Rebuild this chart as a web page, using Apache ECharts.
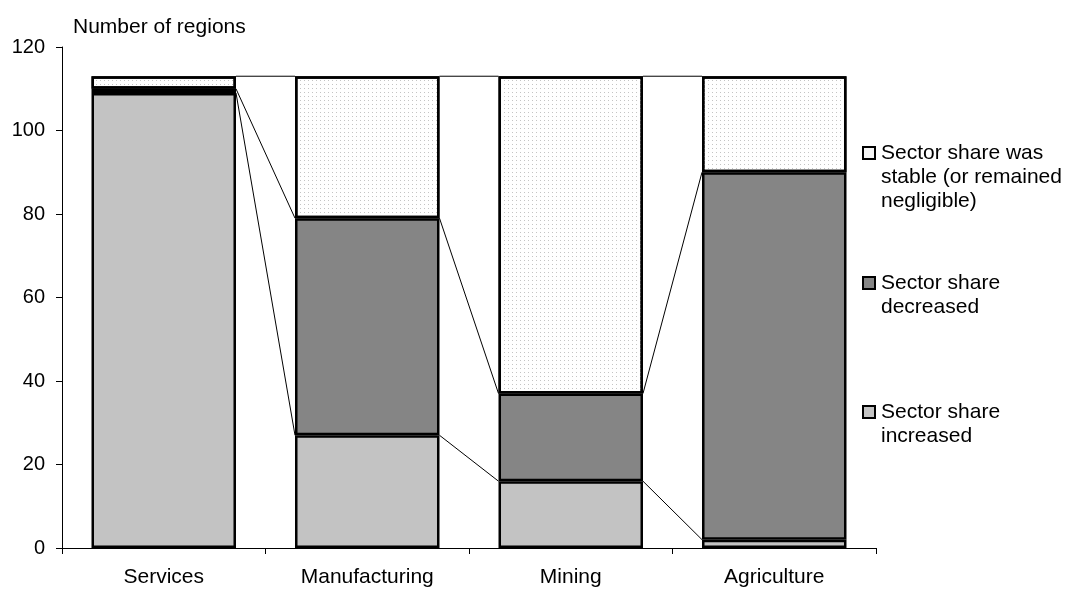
<!DOCTYPE html>
<html>
<head>
<meta charset="utf-8">
<script src="https://cdn.jsdelivr.net/npm/echarts@6/dist/echarts.min.js"></script>
<style>html,body{margin:0;padding:0;background:#fff}#c{width:1067px;height:589px}</style>
</head>
<body>
<div id="c"></div>
<script>
var categories = ['Services', 'Manufacturing', 'Mining', 'Agriculture'];
var increased = [109, 27, 16, 2];
var decreased = [1, 52, 21, 88];
var stable = [3, 34, 76, 23];
var yTicks = [0, 20, 40, 60, 80, 100, 120];
var legendNames = ['Sector share was\nstable (or remained\nnegligible)', 'Sector share\ndecreased', 'Sector share\nincreased'];

var FONT = '"Liberation Sans", Arial, sans-serif';
var BAR_FRAC = 0.71;

// series lines: cumulative tops of each segment, connecting neighbouring bars
var seriesLineData = [];
for (var i = 0; i < categories.length - 1; i++) {
  var a1 = increased[i], a2 = increased[i] + decreased[i], a3 = a2 + stable[i];
  var b1 = increased[i+1], b2 = increased[i+1] + decreased[i+1], b3 = b2 + stable[i+1];
  seriesLineData.push([i, a1, b1]);
  seriesLineData.push([i, a2, b2]);
  seriesLineData.push([i, a3, b3]);
}

var colors = { inc: '#c3c3c3', dec: '#858585', sta: '#ffffff' };
var dotDecal = { symbol: 'rect', symbolSize: 1, dashArrayX: [1, 3], dashArrayY: [1, 3], color: '#c4c4c4' };

var chart = echarts.init(document.getElementById('c'), null, { renderer: 'canvas' });
var option = {
  animation: false,
  textStyle: { fontFamily: FONT },
  grid: { left: 62, right: 191, top: 47, bottom: 41, containLabel: false },
  xAxis: {
    type: 'category',
    data: categories,
    boundaryGap: true,
    axisLine: { lineStyle: { color: '#000', width: 1 } },
    axisTick: { show: true, alignWithLabel: false, length: 6, lineStyle: { color: '#000' } },
    axisLabel: { color: '#000', fontSize: 21, fontFamily: FONT, margin: 19 }
  },
  yAxis: {
    type: 'value',
    min: 0, max: 120, interval: 20,
    name: 'Number of regions',
    nameLocation: 'end',
    nameGap: 9,
    nameTextStyle: { color: '#000', fontSize: 21, fontFamily: FONT, align: 'left', padding: [0, 0, 0, 11] },
    axisLine: { show: true, lineStyle: { color: '#000', width: 1 } },
    axisTick: { show: true, length: 6, lineStyle: { color: '#000' } },
    splitLine: { show: false },
    axisLabel: { color: '#000', fontSize: 20, fontFamily: FONT, margin: 17,
      formatter: function (v) { return yTicks.indexOf(v) >= 0 ? String(v) : ''; } }
  },
  series: [
    { name: legendNames[2], type: 'bar', stack: 's', barWidth: (BAR_FRAC * 100) + '%', data: increased,
      itemStyle: { color: colors.inc, borderColor: '#000', borderWidth: 2.5 } },
    { name: legendNames[1], type: 'bar', stack: 's', barWidth: (BAR_FRAC * 100) + '%', data: decreased,
      itemStyle: { color: colors.dec, borderColor: '#000', borderWidth: 2.5 } },
    { name: legendNames[0], type: 'bar', stack: 's', barWidth: (BAR_FRAC * 100) + '%', data: stable,
      itemStyle: { color: colors.sta, borderColor: '#000', borderWidth: 2.5, decal: dotDecal } },
    { type: 'custom', data: seriesLineData, z: 1, silent: true,
      encode: { x: 0, y: 1 },
      renderItem: function (params, api) {
        var i = api.value(0);
        var p1 = api.coord([i, api.value(1)]);
        var p2 = api.coord([i + 1, api.value(2)]);
        var hw = api.size([1, 0])[0] * BAR_FRAC / 2;
        return { type: 'line', shape: { x1: p1[0] + hw, y1: p1[1], x2: p2[0] - hw, y2: p2[1] },
          style: { stroke: '#000', lineWidth: 1 } };
      } }
  ],
  graphic: [
    { type: 'rect', shape: { x: 863, y: 147, width: 12, height: 12 }, style: { fill: '#f6f6f6', stroke: '#000', lineWidth: 2 } },
    { type: 'text', x: 881, y: 141, style: { text: legendNames[0], font: '21px ' + FONT, fill: '#000', lineHeight: 24 } },
    { type: 'rect', shape: { x: 863, y: 277, width: 12, height: 12 }, style: { fill: colors.dec, stroke: '#000', lineWidth: 2 } },
    { type: 'text', x: 881, y: 271, style: { text: legendNames[1], font: '21px ' + FONT, fill: '#000', lineHeight: 24 } },
    { type: 'rect', shape: { x: 863, y: 406, width: 12, height: 12 }, style: { fill: colors.inc, stroke: '#000', lineWidth: 2 } },
    { type: 'text', x: 881, y: 400, style: { text: legendNames[2], font: '21px ' + FONT, fill: '#000', lineHeight: 24 } }
  ]
};
chart.setOption(option);
</script>
</body>
</html>
